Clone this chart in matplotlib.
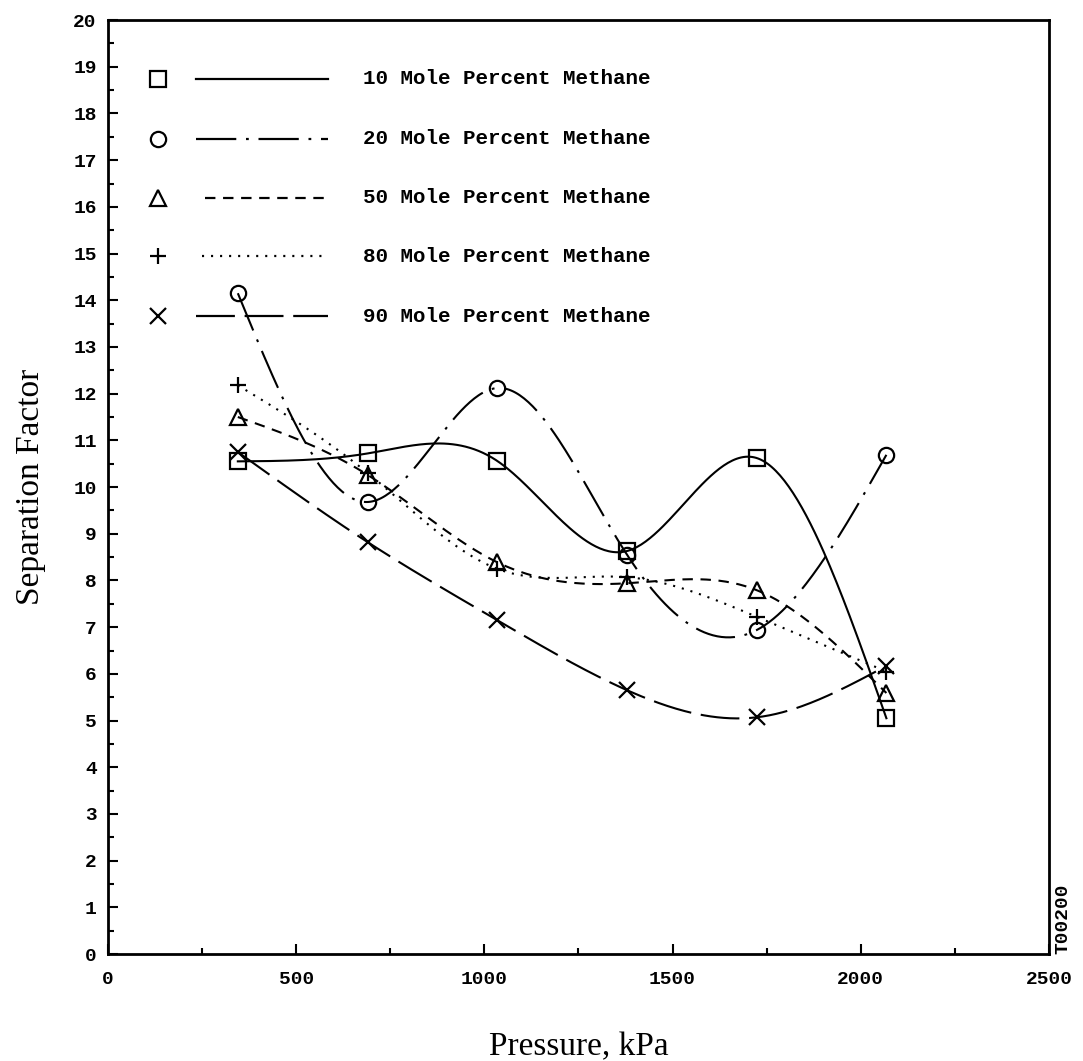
import numpy as np
import matplotlib
matplotlib.use("Agg")
import matplotlib.pyplot as plt
from matplotlib.ticker import MultipleLocator

# separation factor vs pressure for five feed compositions
pressure = [345, 690, 1034, 1379, 1724, 2068]
sf_10 = [10.55, 10.72, 10.56, 8.63, 10.62, 5.05]
sf_20 = [14.15, 9.68, 12.12, 8.55, 6.94, 10.69]
sf_50 = [11.50, 10.26, 8.39, 7.94, 7.79, 5.59]
sf_80 = [12.18, 10.30, 8.25, 8.07, 7.22, 6.05]
sf_90 = [10.75, 8.82, 7.15, 5.65, 5.07, 6.17]

series = [sf_10, sf_20, sf_50, sf_80, sf_90]
labels = ["10 Mole Percent Methane", "20 Mole Percent Methane",
          "50 Mole Percent Methane", "80 Mole Percent Methane",
          "90 Mole Percent Methane"]
markers = ["s", "o", "^", "+", "x"]
# dash patterns in points (on, off, ...); None = solid
dashes = [None, (29, 7, 2, 7), (7.5, 5.5), (1.5, 5), (28, 7)]


def natural_spline(x, y, n=300):
    """natural cubic spline through the points, no scipy needed"""
    x = np.asarray(x, float)
    y = np.asarray(y, float)
    k = len(x)
    h = np.diff(x)
    A = np.zeros((k, k))
    b = np.zeros(k)
    A[0, 0] = A[-1, -1] = 1.0
    for i in range(1, k - 1):
        A[i, i - 1] = h[i - 1]
        A[i, i] = 2 * (h[i - 1] + h[i])
        A[i, i + 1] = h[i]
        b[i] = 6 * ((y[i + 1] - y[i]) / h[i] - (y[i] - y[i - 1]) / h[i - 1])
    M = np.linalg.solve(A, b)
    xs = np.linspace(x[0], x[-1], n)
    idx = np.clip(np.searchsorted(x, xs) - 1, 0, k - 2)
    x0, x1 = x[idx], x[idx + 1]
    hh = x1 - x0
    t0, t1 = x1 - xs, xs - x0
    ys = (M[idx] * t0 ** 3 + M[idx + 1] * t1 ** 3) / (6 * hh) \
        + (y[idx] / hh - M[idx] * hh / 6) * t0 \
        + (y[idx + 1] / hh - M[idx + 1] * hh / 6) * t1
    return xs, ys


plt.rcParams['lines.scale_dashes'] = False
mono = ["Liberation Mono", "DejaVu Sans Mono"]
serif = ["Liberation Serif", "DejaVu Serif"]

fig = plt.figure(figsize=(10.83, 10.61), dpi=100)
ax = fig.add_axes([0.0997, 0.1008, 0.8689, 0.8803])

for vals, mk, ds in zip(series, markers, dashes):
    xs, ys = natural_spline(pressure, vals)
    line, = ax.plot(xs, ys, color="black", lw=1.5)
    if ds is not None:
        line.set_dashes(ds)
    ax.plot(pressure, vals, linestyle="none", marker=mk, ms=11, mew=1.6,
            mfc="none", mec="black")

# legend: marker, line sample, then text
leg_rows = [0.937, 0.873, 0.810, 0.747, 0.683]
leg_start = [0.0935, 0.0935, 0.103, 0.100, 0.0935]
for y, x0, mk, ds, lab in zip(leg_rows, leg_start, markers, dashes, labels):
    ax.plot([0.053], [y], transform=ax.transAxes, marker=mk, ms=11, mew=1.6,
            mfc="none", mec="black", linestyle="none")
    seg, = ax.plot([x0, 0.234], [y, y], transform=ax.transAxes,
                   color="black", lw=1.6)
    if ds is not None:
        seg.set_dashes(ds)
    ax.text(0.271, y, lab, transform=ax.transAxes, va="center", ha="left",
            family=mono, fontsize=15, fontweight="bold")

ax.set_xlim(0, 2500)
ax.set_ylim(0, 20)
ax.xaxis.set_major_locator(MultipleLocator(500))
ax.xaxis.set_minor_locator(MultipleLocator(250))
ax.yaxis.set_major_locator(MultipleLocator(1))
ax.yaxis.set_minor_locator(MultipleLocator(0.5))
ax.tick_params(which="both", direction="in", width=1.5, top=False, right=False)
ax.tick_params(which="major", length=7)
ax.tick_params(which="minor", length=4.5)
ax.tick_params(axis="x", pad=12)
ax.tick_params(axis="y", pad=8)
for lab in ax.get_xticklabels() + ax.get_yticklabels():
    lab.set_family(mono)
    lab.set_fontsize(14)
    lab.set_fontweight("bold")
for sp in ax.spines.values():
    sp.set_linewidth(2)

ax.set_xlabel("Pressure, kPa", family=serif, fontsize=24, labelpad=32)
ax.set_ylabel("Separation Factor", family=serif, fontsize=24, labelpad=20)

ax.text(1.006, 0.0, "T00200", transform=ax.transAxes, rotation=90,
        ha="left", va="bottom", family=mono, fontsize=14, fontweight="bold")

fig.savefig("out.png", dpi=100)
